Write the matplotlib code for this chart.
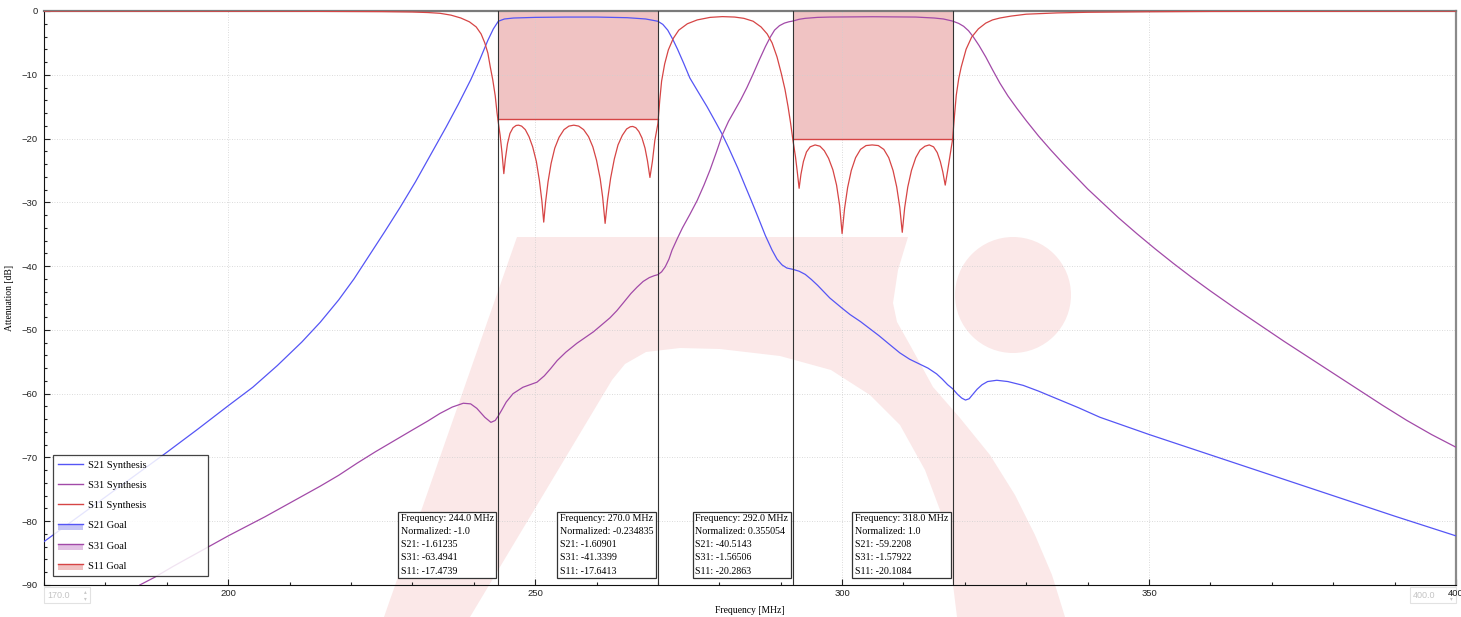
"""Diplexer synthesis response: S21 / S31 / S11 with goal bands and marker readouts."""

import matplotlib

matplotlib.use("Agg")

import matplotlib.pyplot as plt
from matplotlib.legend_handler import HandlerBase
from matplotlib.lines import Line2D
from matplotlib.patches import Circle, Patch, Polygon, Rectangle
from matplotlib.ticker import MultipleLocator

# ---- data ------------------------------------------------------------------
freq_s21 = [170, 175, 180, 185, 190, 195, 200, 204, 208, 212,
            215, 218, 220.5, 223, 225.5, 228, 230.5, 233, 235.5, 237.5,
            239.5, 241, 242.3, 243.2, 244, 245, 246.5, 250, 255, 260,
            265, 268, 270, 270.8, 271.6, 272.4, 273.2, 274.2, 275.2, 276.5,
            278, 279.5, 280.4, 281.5, 283, 284.2, 285.2, 286.3, 287.5, 288.6,
            289.4, 290.2, 291, 292, 293, 294, 295, 296, 297, 298,
            299, 300, 301.3, 303, 304.5, 306, 307.5, 309.4, 311, 312.5,
            314, 315.4, 316.3, 317.2, 318, 318.8, 319.5, 320.1, 320.7, 321.3,
            322, 322.8, 323.7, 325.2, 327, 329.5, 332, 335, 338.5, 342,
            350, 360, 370, 380, 390, 400]
s21_db = [-83.2, -79.7, -76.2, -72.7, -69.2, -65.6, -61.9, -59.0, -55.6, -51.9,
          -48.8, -45.3, -42.0, -38.3, -34.6, -30.8, -26.8, -22.5, -18.2, -14.6,
          -10.8, -7.6, -4.6, -2.8, -1.61, -1.25, -1.1, -1.0, -0.95, -0.95,
          -1.05, -1.25, -1.61, -2.1, -3.0, -4.4, -6.0, -8.2, -10.5, -12.6,
          -15.0, -17.6, -19.2, -21.4, -24.6, -27.4, -29.7, -32.3, -35.2, -37.5,
          -38.9, -39.8, -40.3, -40.51, -40.8, -41.3, -42.1, -43.0, -44.0, -45.0,
          -45.8, -46.6, -47.6, -48.7, -49.8, -50.9, -52.1, -53.6, -54.6, -55.3,
          -56.0, -56.9, -57.7, -58.6, -59.22, -60.1, -60.7, -61.0, -60.8, -60.1,
          -59.3, -58.6, -58.1, -57.9, -58.1, -58.7, -59.6, -60.8, -62.2, -63.7,
          -66.4, -69.6, -72.8, -76.0, -79.2, -82.3]

freq_s31 = [185.6, 188, 191, 194, 197, 200, 203, 206, 209, 212,
            215, 218, 221, 224, 227, 230, 232.5, 234.5, 236.5, 238.3,
            239.5, 240.5, 241.8, 242.8, 243.5, 244, 244.6, 245.3, 246.4, 248,
            250.3, 251.5, 252.5, 253.6, 255, 256.8, 258, 259.5, 261.1, 262.2,
            263.3, 264.5, 265.6, 266.6, 267.6, 268.6, 269.4, 270, 270.6, 271.2,
            271.8, 272.3, 273.2, 274, 275.2, 276.4, 277.5, 278.5, 279.5, 280.5,
            281.5, 282.5, 283.5, 284.5, 285.5, 286.5, 287.5, 288.3, 289, 289.8,
            290.6, 291.3, 292, 293, 294, 296, 298, 305, 312, 315,
            316.5, 318, 319, 319.8, 320.6, 321.4, 322.3, 323.4, 324.5, 325.7,
            327, 328.5, 330, 332, 334, 336, 338, 340, 342, 345,
            348, 351, 354, 357, 360, 364, 368, 372, 376, 380,
            384, 388, 392, 396, 400]
s31_db = [-90, -88.8, -87.1, -85.5, -83.9, -82.3, -80.8, -79.3, -77.7, -76.1,
          -74.5, -72.8, -70.9, -69.1, -67.4, -65.7, -64.3, -63.1, -62.1, -61.5,
          -61.6, -62.3, -63.7, -64.5, -64.2, -63.49, -62.5, -61.3, -60.0, -59.0,
          -58.2, -57.2, -56.1, -54.8, -53.5, -52.1, -51.3, -50.3, -49.0, -48.1,
          -47.0, -45.6, -44.3, -43.3, -42.4, -41.8, -41.5, -41.34, -40.9, -40.1,
          -38.9, -37.5, -35.6, -34.0, -31.9, -29.7, -27.3, -24.9, -22.2, -19.4,
          -17.3, -15.6, -13.9, -12.0, -9.9, -7.7, -5.6, -4.1, -3.0, -2.3,
          -1.9, -1.7, -1.57, -1.3, -1.15, -1.0, -0.95, -0.9, -0.95, -1.1,
          -1.25, -1.58, -1.95, -2.4, -3.1, -4.1, -5.4, -7.2, -9.2, -11.3,
          -13.3, -15.3, -17.2, -19.6, -21.8, -23.9, -25.9, -27.9, -29.7, -32.4,
          -34.9, -37.3, -39.6, -41.8, -43.9, -46.6, -49.2, -51.8, -54.3, -56.8,
          -59.3, -61.8, -64.2, -66.4, -68.4]

freq_s11 = [170, 190, 210, 225, 230, 232.5, 234.5, 236.3, 237.9, 239.3,
            240.4, 241.2, 241.8, 242.3, 242.7, 243.1, 243.5, 243.8, 244, 244.3,
            244.6, 244.9, 245.15, 245.5, 245.9, 246.4, 246.9, 247.3, 247.8, 248.4,
            249.0, 249.6, 250.2, 250.7, 251.1, 251.4, 251.7, 252.1, 252.6, 253.2,
            253.9, 254.7, 255.5, 256.3, 257.1, 257.9, 258.7, 259.4, 260.0, 260.6,
            261.0, 261.4, 261.8, 262.3, 262.9, 263.5, 264.2, 264.9, 265.5, 265.9,
            266.4, 266.9, 267.4, 267.9, 268.3, 268.7, 269.1, 269.5, 270, 270.3,
            270.6, 271.1, 271.7, 272.5, 273.4, 274.8, 276.4, 278.5, 280.5, 282.5,
            284, 285.5, 286.8, 287.8, 288.6, 289.4, 290.1, 290.7, 291.2, 291.6,
            292, 292.4, 292.7, 293, 293.3, 293.7, 294.2, 294.8, 295.6, 296.4,
            297.1, 297.8, 298.5, 299.1, 299.6, 300, 300.4, 300.9, 301.5, 302.2,
            303, 303.9, 304.9, 305.9, 306.8, 307.6, 308.3, 308.9, 309.4, 309.8,
            310.2, 310.7, 311.3, 312, 312.7, 313.5, 314.2, 314.9, 315.5, 316.0,
            316.4, 316.8, 317.2, 317.6, 318, 318.3, 318.6, 319, 319.4, 320.2,
            321.1, 322.2, 323.4, 324.5, 325.7, 327.5, 330, 335, 340, 350,
            360, 380, 400]
s11_db = [-0.01, -0.02, -0.04, -0.1, -0.16, -0.24, -0.36, -0.65, -1.1, -1.7,
          -2.5, -3.6, -5.0, -6.6, -8.8, -10.8, -13.3, -16.0, -17.47, -19.5,
          -22.2, -25.5, -23.2, -20.8, -19.2, -18.3, -17.95, -17.9, -18.05, -18.6,
          -19.7, -21.3, -23.6, -26.6, -29.8, -33.1, -30.0, -26.8, -23.9, -21.5,
          -19.8, -18.6, -18.05, -17.9, -18.05, -18.6, -19.7, -21.3, -23.4, -26.3,
          -29.2, -33.3, -29.6, -26.2, -23.2, -21.0, -19.5, -18.5, -18.15, -18.1,
          -18.3, -18.9, -19.9, -21.5, -23.5, -26.1, -23.6, -20.3, -17.64, -14.0,
          -11.0, -8.3, -6.1, -4.3, -3.0, -2.0, -1.4, -1.0, -0.88, -0.95,
          -1.15, -1.6, -2.5, -3.6, -5.0, -7.2, -9.8, -12.3, -15.0, -17.5,
          -20.29, -22.8, -25.2, -27.8, -25.6, -23.6, -22.1, -21.3, -21.0, -21.2,
          -21.9, -23.1, -24.9, -27.3, -30.5, -34.9, -31.0, -27.7, -25.0, -23.0,
          -21.7, -21.1, -21.0, -21.1, -21.7, -23.0, -25.0, -27.6, -30.8, -34.7,
          -30.8, -27.6, -25.0, -23.0, -21.8, -21.2, -21.0, -21.3, -22.2, -23.6,
          -25.2, -27.3, -25.0, -22.5, -20.11, -16.5, -13.2, -10.6, -8.8, -6.0,
          -4.1, -2.8, -1.9, -1.4, -1.1, -0.8, -0.5, -0.3, -0.2, -0.12,
          -0.07, -0.04, -0.02]

# S11 goal bands (start, stop, level)
goal_start = [244, 292]
goal_stop = [270, 318]
goal_level = [-17, -20]

# marker readouts
marker_freq = [244.0, 270.0, 292.0, 318.0]
marker_norm = ["-1.0", "-0.234835", "0.355054", "1.0"]
marker_s21 = ["-1.61235", "-1.60901", "-40.5143", "-59.2208"]
marker_s31 = ["-63.4941", "-41.3399", "-1.56506", "-1.57922"]
marker_s11 = ["-17.4739", "-17.6413", "-20.2863", "-20.1084"]

C_S21 = "#5555f5"
C_S31 = "#a24aa8"
C_S11 = "#d64545"
SERIF = ["Liberation Serif", "DejaVu Serif"]
SANS = ["Liberation Sans", "DejaVu Sans"]

W, H = 1461, 617


def px(x, y):
    """figure pixel (top-left origin) -> figure fraction"""
    return (x / W, 1 - y / H)


class HandlerGoal(HandlerBase):
    """light band with a line on top, like the goal swatches"""

    def create_artists(self, legend, orig_handle, xdescent, ydescent, width, height, fontsize, trans):
        top = -ydescent + height * 0.6
        rect = Rectangle((-xdescent, -ydescent - 1), width, top + ydescent + 1,
                         facecolor=orig_handle.get_facecolor(), edgecolor="none", transform=trans)
        line = Line2D([-xdescent, -xdescent + width], [top, top],
                      color=orig_handle.get_edgecolor(), lw=1.0, transform=trans)
        return [rect, line]


fig = plt.figure(figsize=(W / 100, H / 100), dpi=100)

# faint logo watermark behind the plot
outer = [(384, 617), (517, 237), (908, 237), (898, 270), (893, 303), (897, 322),
         (910, 345), (933, 387), (960, 418), (990, 455), (1015, 495), (1035, 535),
         (1052, 575), (1065, 617), (957, 617), (950, 560), (940, 510), (925, 470),
         (900, 425), (870, 395), (831, 370), (780, 356), (720, 349), (680, 348),
         (646, 352), (625, 364), (612, 380), (470, 617)]
wm = "#fbe8e8"
fig.add_artist(Polygon([px(*p) for p in outer], closed=True, facecolor=wm,
                       edgecolor="none", transform=fig.transFigure, zorder=-5))
fig.add_artist(Circle((1013 / 100, (H - 295) / 100), 0.58, facecolor=wm, edgecolor="none",
                      transform=fig.dpi_scale_trans, zorder=-5))

ax = fig.add_axes([44 / W, 1 - 585 / H, 1412 / W, 574 / H])
ax.set_facecolor("none")

for s, e, lvl in zip(goal_start, goal_stop, goal_level):
    ax.fill_between([s, e], [lvl, lvl], [0, 0], color="#d24a4a", alpha=0.33, lw=0, zorder=1)
    ax.plot([s, e], [lvl, lvl], color=C_S11, lw=1.0, zorder=2)

ax.plot(freq_s21, s21_db, color=C_S21, lw=0.9, zorder=3)
ax.plot(freq_s31, s31_db, color=C_S31, lw=0.9, zorder=3)
ax.plot(freq_s11, s11_db, color=C_S11, lw=0.9, zorder=3)

for f in marker_freq:
    ax.axvline(f, color="#333333", lw=0.8, zorder=4)

for f, n, a, b, c in zip(marker_freq, marker_norm, marker_s21, marker_s31, marker_s11):
    txt = (f"Frequency: {f:.1f} MHz\nNormalized: {n}\nS21: {a}\nS31: {b}\nS11: {c}")
    ax.annotate(txt, xy=(f, -90), xycoords="data", xytext=(-4.5, 9.5),
                textcoords="offset pixels", ha="right", va="bottom", multialignment="left",
                fontsize=7.2, family=SERIF, linespacing=1.58, zorder=6,
                bbox=dict(boxstyle="square,pad=0.25", fc="white", ec="#333333", lw=0.9))

ax.set_xlim(170, 400)
ax.set_ylim(-90, 0)
ax.xaxis.set_major_locator(MultipleLocator(50))
ax.xaxis.set_minor_locator(MultipleLocator(10))
ax.yaxis.set_major_locator(MultipleLocator(10))
ax.yaxis.set_minor_locator(MultipleLocator(2))
ax.tick_params(which="both", direction="in", colors="#222222", labelsize=6.8)
ax.tick_params(which="major", length=4, width=0.8)
ax.tick_params(which="minor", length=2.5, width=0.8)
ax.tick_params(axis="x", pad=3)
ax.tick_params(axis="y", pad=4.5)
for lab in ax.get_xticklabels() + ax.get_yticklabels():
    lab.set_family(SANS)
ax.grid(True, which="major", color="#cfcfcf", lw=0.6, ls=(0, (1, 2)), zorder=0)

ax.spines["left"].set_color("#111111")
ax.spines["bottom"].set_color("#111111")
ax.spines["top"].set_color("#7a7a7a")
ax.spines["right"].set_color("#8a8a8a")
ax.spines["top"].set_linewidth(1.6)
ax.spines["right"].set_linewidth(1.6)

ax.set_xlabel("Frequency [MHz]", family=SERIF, fontsize=6.9)
ax.set_ylabel("Attenuation [dB]", family=SERIF, fontsize=6.9)
ax.xaxis.set_label_coords(0.5, -0.037)
ax.yaxis.set_label_coords(-0.021, 0.5)

handles = [
    Line2D([], [], color=C_S21, lw=1.0),
    Line2D([], [], color=C_S31, lw=1.0),
    Line2D([], [], color=C_S11, lw=1.0),
    Patch(facecolor="#c6c6f5", edgecolor=C_S21),
    Patch(facecolor="#e2c2e4", edgecolor=C_S31),
    Patch(facecolor="#f0c2c2", edgecolor=C_S11),
]
labels = ["S21 Synthesis", "S31 Synthesis", "S11 Synthesis", "S21 Goal", "S31 Goal", "S11 Goal"]
leg = ax.legend(handles, labels, loc="lower left",
                bbox_to_anchor=(9 / 1412, 9 / 574, 155 / 1412, 0.2), mode="expand",
                borderaxespad=0, fancybox=False, edgecolor="#222222", framealpha=0.85,
                prop={"family": SERIF, "size": 7.5}, handlelength=2.4, handletextpad=0.45,
                labelspacing=1.05, borderpad=0.5,
                handler_map={Patch: HandlerGoal()})
leg.get_frame().set_linewidth(0.9)
leg.set_zorder(7)

# range spin boxes of the host app (kept under the axes so tick labels stay on top)
for x0, label in [(44, "170.0"), (1410, "400.0")]:
    fig.add_artist(Rectangle(px(x0, 603), 46 / W, 16 / H, transform=fig.transFigure,
                             facecolor="white", edgecolor="#e2e2e2", lw=0.8, zorder=-2))
    fig.text(*px(x0 + 3, 595.5), label, fontsize=6.5, family=SANS, color="#c4c4c4",
             va="center", zorder=-1)
    fig.text(*px(x0 + 41, 591.5), "\u25b4", fontsize=4, color="#c8c8c8", ha="center",
             va="center", zorder=-1)
    fig.text(*px(x0 + 41, 599), "\u25be", fontsize=4, color="#c8c8c8", ha="center",
             va="center", zorder=-1)

fig.savefig("out.png", dpi=100)
plt.close(fig)
